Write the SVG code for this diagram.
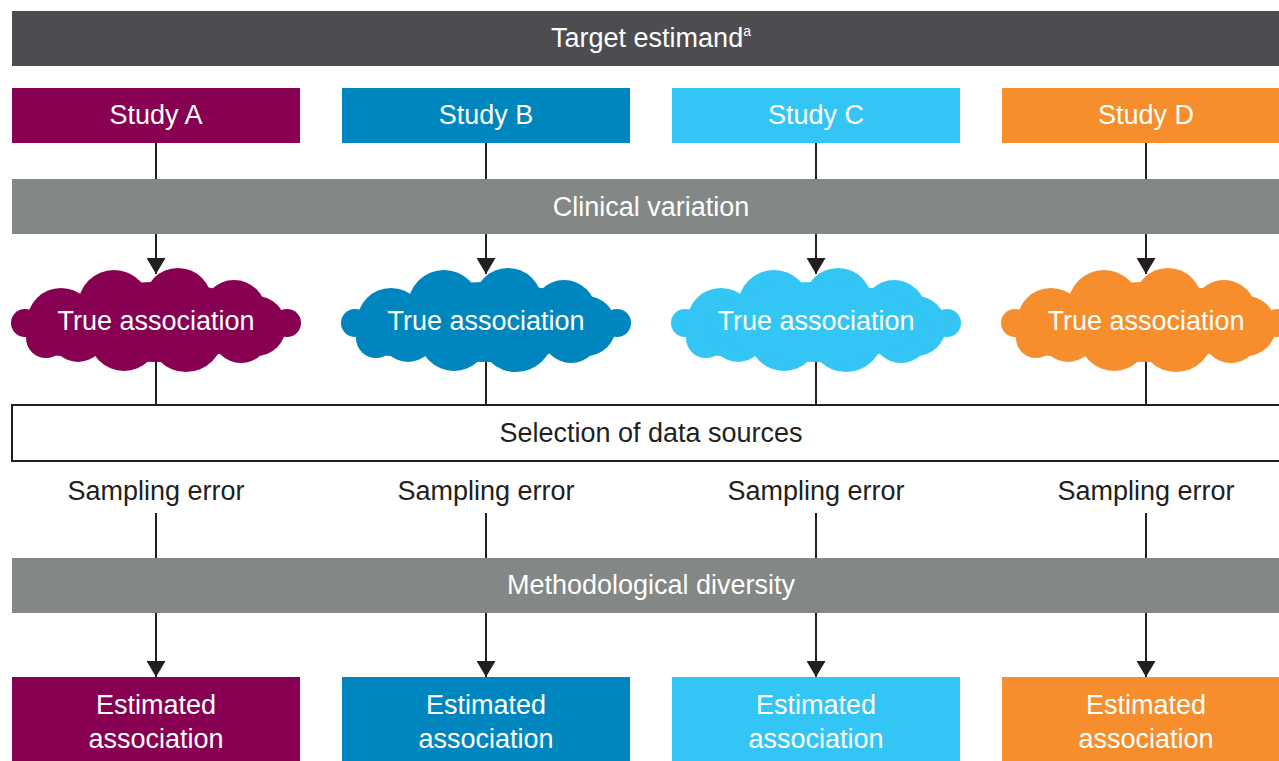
<svg xmlns="http://www.w3.org/2000/svg" width="1279" height="761" viewBox="0 0 1279 761">
<style>
text{font-family:"Liberation Sans",Arial,sans-serif;font-size:27px;text-anchor:middle}
.w{fill:#ffffff}
.k{fill:#231f20}
.bar{fill:#838786}
.a{fill:#870051}.b{fill:#0086bf}.c{fill:#33c6f4}.d{fill:#f68e2d}
.ln{stroke:#231f20;stroke-width:2;fill:none}
.ar{marker-end:url(#arr)}
</style>
<defs>
<marker id="arr" viewBox="0 0 16 19" refX="16" refY="9.5" markerWidth="16" markerHeight="19" markerUnits="userSpaceOnUse" orient="auto">
<path d="M0,0 L16,9.5 L0,19 z" fill="#231f20"/>
</marker>
<g id="cloud">
<circle cx="-131" cy="3" r="14"/>
<circle cx="131" cy="3" r="14"/>
<circle cx="-95" cy="2" r="34"/>
<circle cx="-110" cy="18" r="20"/>
<circle cx="-42" cy="-14" r="36"/>
<circle cx="22" cy="-18" r="34"/>
<circle cx="78" cy="-8" r="32"/>
<circle cx="100" cy="6" r="30"/>
<circle cx="-78" cy="14" r="28"/>
<circle cx="-32" cy="16" r="35"/>
<circle cx="30" cy="15" r="37"/>
<circle cx="85" cy="14" r="29"/>
<ellipse cx="0" cy="2" rx="105" ry="40"/>
</g>
</defs>

<g id="target">
<rect x="12" y="11" width="1290" height="55" fill="#4d4c51"/>
<text x="651" y="47" class="w">Target estimand<tspan font-size="14" dy="-11">a</tspan></text>
</g>

<g id="studyA"><rect x="12" y="88" width="288" height="55" class="a"/><text x="156" y="124" class="w">Study A</text></g>
<g id="studyB"><rect x="342" y="88" width="288" height="55" class="b"/><text x="486" y="124" class="w">Study B</text></g>
<g id="studyC"><rect x="672" y="88" width="288" height="55" class="c"/><text x="816" y="124" class="w">Study C</text></g>
<g id="studyD"><rect x="1002" y="88" width="300" height="55" class="d"/><text x="1146" y="124" class="w">Study D</text></g>

<g id="clinical">
<rect x="12" y="179" width="1290" height="55" class="bar"/>
<text x="651" y="216" class="w">Clinical variation</text>
</g>

<g id="connectors">
<line x1="156" y1="143" x2="156" y2="179" class="ln"/>
<line x1="486" y1="143" x2="486" y2="179" class="ln"/>
<line x1="816" y1="143" x2="816" y2="179" class="ln"/>
<line x1="1146" y1="143" x2="1146" y2="179" class="ln"/>
<line x1="156" y1="234" x2="156" y2="274" class="ln ar"/>
<line x1="486" y1="234" x2="486" y2="274" class="ln ar"/>
<line x1="816" y1="234" x2="816" y2="274" class="ln ar"/>
<line x1="1146" y1="234" x2="1146" y2="274" class="ln ar"/>
<line x1="156" y1="350" x2="156" y2="405" class="ln"/>
<line x1="486" y1="350" x2="486" y2="405" class="ln"/>
<line x1="816" y1="350" x2="816" y2="405" class="ln"/>
<line x1="1146" y1="350" x2="1146" y2="405" class="ln"/>
<line x1="156" y1="513" x2="156" y2="558" class="ln"/>
<line x1="486" y1="513" x2="486" y2="558" class="ln"/>
<line x1="816" y1="513" x2="816" y2="558" class="ln"/>
<line x1="1146" y1="513" x2="1146" y2="558" class="ln"/>
<line x1="156" y1="613" x2="156" y2="677" class="ln ar"/>
<line x1="486" y1="613" x2="486" y2="677" class="ln ar"/>
<line x1="816" y1="613" x2="816" y2="677" class="ln ar"/>
<line x1="1146" y1="613" x2="1146" y2="677" class="ln ar"/>
</g>

<g id="trueA"><use href="#cloud" x="156" y="320" class="a"/><text x="156" y="330" class="w">True association</text></g>
<g id="trueB"><use href="#cloud" x="486" y="320" class="b"/><text x="486" y="330" class="w">True association</text></g>
<g id="trueC"><use href="#cloud" x="816" y="320" class="c"/><text x="816" y="330" class="w">True association</text></g>
<g id="trueD"><use href="#cloud" x="1146" y="320" class="d"/><text x="1146" y="330" class="w">True association</text></g>

<g id="selection">
<rect x="12" y="405" width="1300" height="56" fill="#ffffff" stroke="#231f20" stroke-width="2"/>
<text x="651" y="442" class="k">Selection of data sources</text>
</g>

<g id="samplingA"><text x="156" y="500" class="k">Sampling error</text></g>
<g id="samplingB"><text x="486" y="500" class="k">Sampling error</text></g>
<g id="samplingC"><text x="816" y="500" class="k">Sampling error</text></g>
<g id="samplingD"><text x="1146" y="500" class="k">Sampling error</text></g>

<g id="methodological">
<rect x="12" y="558" width="1290" height="55" class="bar"/>
<text x="651" y="594" class="w">Methodological diversity</text>
</g>

<g id="estA"><rect x="12" y="677" width="288" height="90" class="a"/><text x="156" y="714" class="w">Estimated</text><text x="156" y="748" class="w">association</text></g>
<g id="estB"><rect x="342" y="677" width="288" height="90" class="b"/><text x="486" y="714" class="w">Estimated</text><text x="486" y="748" class="w">association</text></g>
<g id="estC"><rect x="672" y="677" width="288" height="90" class="c"/><text x="816" y="714" class="w">Estimated</text><text x="816" y="748" class="w">association</text></g>
<g id="estD"><rect x="1002" y="677" width="300" height="90" class="d"/><text x="1146" y="714" class="w">Estimated</text><text x="1146" y="748" class="w">association</text></g>
</svg>
